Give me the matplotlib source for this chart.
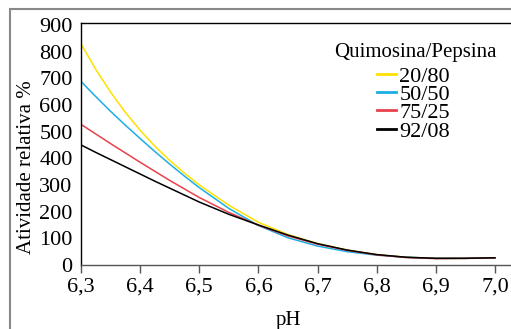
import matplotlib
matplotlib.use("Agg")
import matplotlib.pyplot as plt
from matplotlib.patches import Rectangle

plt.rcParams['font.family'] = ['Liberation Serif', 'DejaVu Serif']

ph = [6.30, 6.325, 6.35, 6.375, 6.40, 6.425, 6.45, 6.475, 6.50,
      6.55, 6.60, 6.65, 6.70, 6.75, 6.80, 6.85, 6.90, 6.95, 7.00]
r20_80 = [829, 733, 648, 572, 505, 445, 392, 344, 300,
          224, 160, 114, 80, 56, 39, 29, 25, 25, 27]
r50_50 = [688, 631, 576, 524, 474, 425, 378, 333, 290,
          212, 148, 102, 71, 50, 37, 29, 25, 25, 27]
r75_25 = [527, 491, 455, 420, 385, 351, 317, 285, 253,
          197, 149, 109, 78, 55, 38, 28, 24, 25, 27]
r92_08 = [450, 422, 395, 368, 341, 314, 288, 262, 236,
          190, 150, 112, 80, 56, 39, 29, 25, 25, 27]

series = [("20/80", r20_80, "#FFE000"),
          ("50/50", r50_50, "#1BAEE6"),
          ("75/25", r75_25, "#E8414B"),
          ("92/08", r92_08, "#000000")]

xticks = [6.3, 6.4, 6.5, 6.6, 6.7, 6.8, 6.9, 7.0]
xticklabels = ["6,3", "6,4", "6,5", "6,6", "6,7", "6,8", "6,9", "7,0"]
yticks = [0, 100, 200, 300, 400, 500, 600, 700, 800, 900]

W, H = 511, 329
fig = plt.figure(figsize=(W / 100, H / 100), dpi=100)
ax = fig.add_axes([81 / W, 1 - 265 / H, (W - 81) / W, (265 - 23) / H])

for name, vals, col in series:
    ax.plot(ph, vals, color=col, lw=1.1, label=name)

ax.set_xlim(6.3, 6.3 + 430 / 591.4)
ax.set_ylim(0, 907)
ax.set_xticks(xticks)
ax.set_xticklabels(xticklabels, fontsize=16)
ax.set_yticks(yticks)
ax.set_yticklabels([str(v) for v in yticks], fontsize=16)
ax.tick_params(axis='x', direction='out', length=6, width=1, color='#555555', pad=3)
ax.tick_params(axis='y', length=0, pad=6)

ax.spines['right'].set_visible(False)
ax.spines['bottom'].set_color('#555555')
ax.spines['left'].set_color('black')
ax.spines['top'].set_color('black')
for s in ax.spines.values():
    s.set_linewidth(1.0)

ax.set_xlabel("pH", fontsize=15)
ax.xaxis.set_label_coords((288 - 81) / (W - 81), -0.19)
ax.set_ylabel("Atividade relativa %", fontsize=15)
ax.yaxis.set_label_coords((36 - 81) / (W - 81), (265 - 167) / 242)

fig.text(415 / W, 1 - 53 / H, "Quimosina/Pepsina", fontsize=15,
         ha='center', va='center')
leg = ax.legend(loc='upper left',
                bbox_to_anchor=(377 / W, 1 - 66 / H), bbox_transform=fig.transFigure,
                frameon=False, fontsize=16,
                handlelength=0.85, handletextpad=0.15, labelspacing=-0.1,
                borderpad=0, borderaxespad=0)
for line in leg.get_lines():
    line.set_linewidth(2.0)

fig.patches.append(Rectangle((10 / W, -0.1), 1.2, 1.1 - 9 / H,
                             transform=fig.transFigure, fill=False,
                             edgecolor='#888888', lw=1.5, zorder=0))

fig.savefig("out.png", dpi=100)
